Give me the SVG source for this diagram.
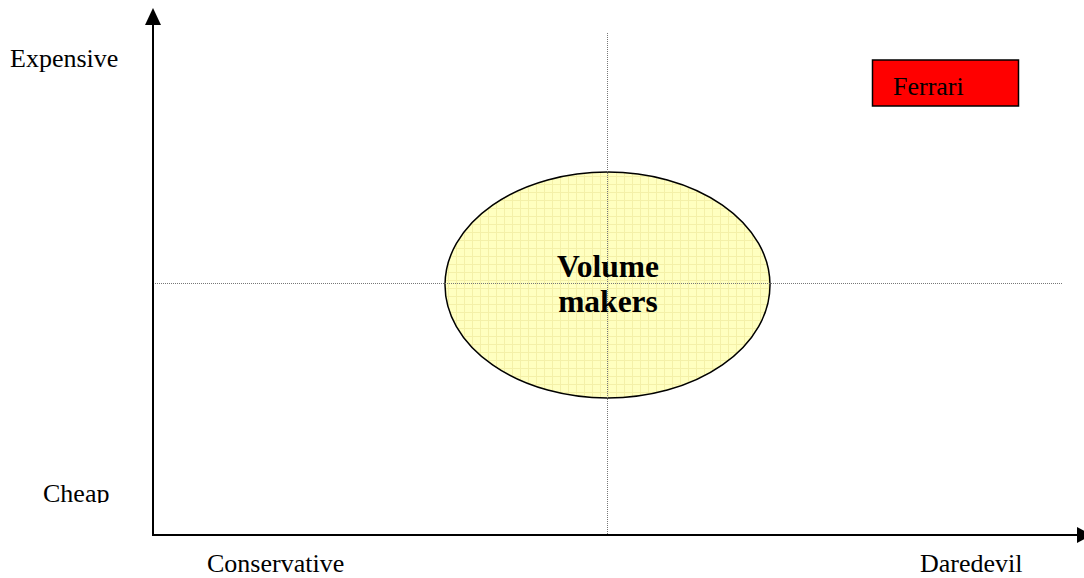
<svg xmlns="http://www.w3.org/2000/svg" width="1084" height="578" viewBox="0 0 1084 578">
<style>
.lbl{font-family:"Liberation Serif","Times New Roman",serif;font-size:26px;fill:#000}
.big{font-family:"Liberation Serif","Times New Roman",serif;font-size:31.5px;font-weight:bold;fill:#000}
.dot{stroke:#777;stroke-width:1;stroke-dasharray:1 1;fill:none}
.axis{stroke:#000;stroke-width:2;fill:none}
</style>
<defs>
<pattern id="grid" width="8" height="8" patternUnits="userSpaceOnUse">
<rect width="8" height="8" fill="#FFFFC0"/>
<path d="M0 0.5H8M0.5 0V8" stroke="#F4F0A8" stroke-width="1"/>
</pattern>
<clipPath id="cheapClip"><rect x="0" y="470" width="150" height="33"/></clipPath>
</defs>
<rect width="1084" height="578" fill="#fff"/>
<g id="ellipse-node">
<ellipse cx="607.5" cy="285" rx="162.5" ry="113" fill="url(#grid)" stroke="#000" stroke-width="1.5"/>
</g>
<g id="connectors">
<line class="dot" x1="607.5" y1="33" x2="607.5" y2="535"/>
<line class="dot" x1="153" y1="283.5" x2="1062" y2="283.5"/>
<line class="axis" x1="153" y1="22" x2="153" y2="536"/>
<line class="axis" x1="152" y1="535" x2="1078" y2="535"/>
<polygon points="153,8 145,25 161,25" fill="#000"/>
<polygon points="1092,535 1077,527 1077,543" fill="#000"/>
</g>
<g id="volume-label">
<text class="big" x="608" y="277" text-anchor="middle">Volume</text>
<text class="big" x="608" y="312" text-anchor="middle">makers</text>
</g>
<g id="ferrari">
<rect x="872.5" y="60" width="146" height="46" fill="#FF0000" stroke="#000" stroke-width="1.5"/>
<text class="lbl" x="893" y="95">Ferrari</text>
</g>
<g id="axis-labels">
<text class="lbl" x="10" y="67">Expensive</text>
<text class="lbl" x="43" y="502" clip-path="url(#cheapClip)">Cheap</text>
<text class="lbl" x="207" y="572">Conservative</text>
<text class="lbl" x="920" y="572">Daredevil</text>
</g>
</svg>
